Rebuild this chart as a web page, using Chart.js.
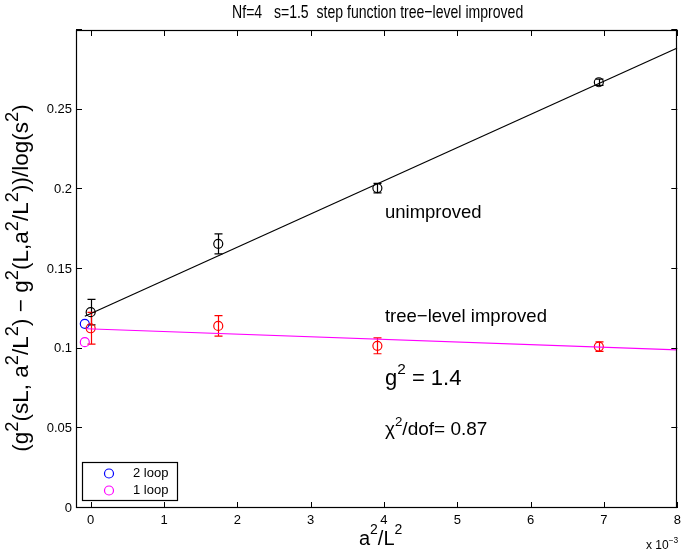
<!DOCTYPE html>
<html>
<head>
<meta charset="utf-8">
<script src="https://cdn.jsdelivr.net/npm/chart.js@4.4.1/dist/chart.umd.min.js"></script>
<style>
  html, body { margin: 0; padding: 0; background: #fff; }
  #wrap { width: 683px; height: 559px; }
</style>
</head>
<body>
<div id="wrap"><canvas id="c" width="683" height="559"></canvas></div>
<script>
// a^2/L^2 values, in units of 1e-3
const a2L2 = [0, 1.74, 3.91, 6.93];
// unimproved step function and errors
const unimproved = [0.1229, 0.1658, 0.2008, 0.2672];
const unimprovedErr = [0.008, 0.0063, 0.003, 0.002];
// tree-level improved step function and errors
const treeLevel = [0.1128, 0.1143, 0.1018, 0.1013];
const treeLevelErr = [0.010, 0.0064, 0.005, 0.003];
// perturbative values at the continuum limit
const twoLoop = { x: -0.08, y: 0.1156 };
const oneLoop = { x: -0.08, y: 0.1041 };
// linear fit end points
const fitUnimproved = [{ x: -0.08, y: 0.1203 }, { x: 8, y: 0.2887 }];
const fitTreeLevel = [{ x: -0.06, y: 0.1125 }, { x: 8, y: 0.0992 }];

const xTicks = [0, 1, 2, 3, 4, 5, 6, 7, 8];
const yTicks = [0, 0.05, 0.1, 0.15, 0.2, 0.25, 0.3];

const FONT = '"Liberation Sans", Arial, Helvetica, sans-serif';

function pts(xs, ys) {
    return xs.map((x, i) => ({ x: x, y: ys[i] }));
}

// draw text with superscripts, segs = [[text, isSup], ...]
function richWidth(ctx, segs, size, supScale) {
    let w = 0;
    segs.forEach(s => {
        ctx.font = (s[1] ? size * supScale : size) + 'px ' + FONT;
        w += ctx.measureText(s[0]).width;
    });
    return w;
}
function drawRich(ctx, segs, x, y, size, align, supScale) {
    supScale = supScale || 0.7;
    let w = richWidth(ctx, segs, size, supScale);
    let cx = align === 'center' ? x - w / 2 : x;
    ctx.textBaseline = 'middle';
    ctx.textAlign = 'left';
    segs.forEach(s => {
        const sz = s[1] ? size * supScale : size;
        ctx.font = sz + 'px ' + FONT;
        ctx.fillText(s[0], cx, s[1] ? y - size * 0.42 : y);
        cx += ctx.measureText(s[0]).width;
    });
}

const decorations = {
    id: 'decorations',
    beforeDatasetsDraw(chart) {
        const ctx = chart.ctx;
        const xs = chart.scales.x, ys = chart.scales.y;
        ctx.save();
        ctx.lineWidth = 1.2;
        const bars = (vals, errs, color) => {
            ctx.strokeStyle = color;
            vals.forEach((v, i) => {
                const px = Math.round(xs.getPixelForValue(a2L2[i])) + 0.5;
                const top = ys.getPixelForValue(v + errs[i]);
                const bot = ys.getPixelForValue(v - errs[i]);
                ctx.beginPath();
                ctx.moveTo(px, top); ctx.lineTo(px, bot);
                ctx.moveTo(px - 4, top); ctx.lineTo(px + 4, top);
                ctx.moveTo(px - 4, bot); ctx.lineTo(px + 4, bot);
                ctx.stroke();
            });
        };
        bars(unimproved, unimprovedErr, '#000');
        bars(treeLevel, treeLevelErr, '#ff0000');
        ctx.restore();
    },
    afterDraw(chart) {
        const ctx = chart.ctx;
        const a = chart.chartArea;
        const xs = chart.scales.x, ys = chart.scales.y;
        ctx.save();
        ctx.fillStyle = '#000';
        ctx.strokeStyle = '#000';
        ctx.lineWidth = 1.2;

        // frame
        ctx.strokeRect(Math.round(a.left) + 0.5, Math.round(a.top) + 0.5,
            Math.round(a.right - a.left) - 1, Math.round(a.bottom - a.top) - 1);

        // inward ticks
        ctx.lineWidth = 1;
        ctx.beginPath();
        xTicks.forEach(t => {
            const px = Math.round(xs.getPixelForValue(t)) + 0.5;
            ctx.moveTo(px, a.bottom); ctx.lineTo(px, a.bottom - 6);
            ctx.moveTo(px, a.top); ctx.lineTo(px, a.top + 6);
        });
        yTicks.forEach(t => {
            const py = Math.round(ys.getPixelForValue(t)) - 0.5;
            ctx.moveTo(a.left, py); ctx.lineTo(a.left + 6, py);
            ctx.moveTo(a.right, py); ctx.lineTo(a.right - 6, py);
        });
        ctx.stroke();

        // x tick labels
        ctx.font = '13px ' + FONT;
        ctx.textAlign = 'center';
        ctx.textBaseline = 'middle';
        xTicks.forEach(t => ctx.fillText(String(t), xs.getPixelForValue(t), a.bottom + 12));

        // x 10^-3
        drawRich(ctx, [['x 10', false], ['\u22123', true]], 646, 546, 12, 'left');

        // title, in a narrow face
        ctx.save();
        ctx.translate((a.left + a.right) / 2 + 1, 13);
        ctx.scale(0.74, 1);
        ctx.font = '19px ' + FONT;
        ctx.textAlign = 'center';
        ctx.textBaseline = 'middle';
        ctx.fillText('Nf=4   s=1.5  step function tree\u2212level improved', 0, 0);
        ctx.restore();

        // axis labels
        drawRich(ctx, [['a', false], ['2', true], ['/L', false], ['2', true]],
            (a.left + a.right) / 2 + 4, 539, 20, 'center');
        ctx.save();
        ctx.translate(22, (a.top + a.bottom) / 2 + 9);
        ctx.rotate(-Math.PI / 2);
        drawRich(ctx, [['(g', false], ['2', true], ['(sL, a', false], ['2', true], ['/L', false], ['2', true],
            [') \u2212 g', false], ['2', true], ['(L,a', false], ['2', true], ['/L', false], ['2', true],
            ['))/log(s', false], ['2', true], [')', false]], 0, 0, 22.5, 'center', 0.82);
        ctx.restore();

        // annotations
        const tx = xs.getPixelForValue(4) + 1;
        drawRich(ctx, [['unimproved', false]], tx, ys.getPixelForValue(0.185), 18.5, 'left');
        drawRich(ctx, [['tree\u2212level improved', false]], tx, ys.getPixelForValue(0.12), 18.5, 'left');
        drawRich(ctx, [['g', false], ['2', true], [' = 1.4', false]], tx, ys.getPixelForValue(0.081), 22, 'left');
        drawRich(ctx, [['\u03c7', false], ['2', true], ['/dof= 0.87', false]], tx, ys.getPixelForValue(0.049), 19, 'left');

        // legend
        const lx = 82.5, ly = 462.5, lw = 95, lh = 38;
        ctx.fillStyle = '#fff';
        ctx.fillRect(lx, ly, lw, lh);
        ctx.lineWidth = 1.2;
        ctx.strokeRect(lx, ly, lw, lh);
        const entries = [chart.data.datasets[4], chart.data.datasets[5]];
        entries.forEach((ds, i) => {
            const cy = ly + 11 + i * 17;
            ctx.strokeStyle = ds.borderColor;
            ctx.beginPath();
            ctx.arc(109, cy, 4.5, 0, Math.PI * 2);
            ctx.stroke();
            ctx.fillStyle = '#000';
            ctx.font = '13px ' + FONT;
            ctx.textAlign = 'left';
            ctx.textBaseline = 'middle';
            ctx.fillText(ds.label, 133, cy);
        });
        ctx.restore();
    }
};

const circle = (color) => ({
    pointStyle: 'circle', pointRadius: 4.5, pointHoverRadius: 4.5,
    borderColor: color, backgroundColor: 'rgba(0,0,0,0)', borderWidth: 1.2, showLine: false
});

new Chart(document.getElementById('c').getContext('2d'), {
    type: 'scatter',
    data: {
        datasets: [
            { type: 'line', label: 'fit unimproved', data: fitUnimproved, borderColor: '#000', borderWidth: 1.2, pointRadius: 0, fill: false },
            { type: 'line', label: 'fit tree-level', data: fitTreeLevel, borderColor: '#ff00ff', borderWidth: 1.2, pointRadius: 0, fill: false },
            Object.assign({ label: 'unimproved', data: pts(a2L2, unimproved) }, circle('#000')),
            Object.assign({ label: 'tree-level improved', data: pts(a2L2, treeLevel) }, circle('#ff0000')),
            Object.assign({ label: '2 loop', data: [twoLoop] }, circle('#0000ff')),
            Object.assign({ label: '1 loop', data: [oneLoop] }, circle('#ff00ff'))
        ]
    },
    options: {
        responsive: false,
        animation: false,
        layout: { padding: { top: 30, right: 1, left: 0, bottom: 0 } },
        plugins: { legend: { display: false }, tooltip: { enabled: false }, title: { display: false } },
        scales: {
            x: {
                type: 'linear', min: -0.2, max: 8,
                ticks: { display: false },
                grid: { display: false, drawTicks: false },
                border: { display: false },
                afterFit: s => { s.height = 51; }
            },
            y: {
                type: 'linear', min: 0, max: 0.3,
                afterBuildTicks: s => { s.ticks = yTicks.map(v => ({ value: v })); },
                ticks: {
                    color: '#000', padding: 4, font: { size: 13, family: FONT },
                    callback: v => v >= 0.3 ? '' : String(+v.toFixed(2))
                },
                grid: { display: false, drawTicks: false },
                border: { display: false },
                afterFit: s => { s.width = 76; }
            }
        }
    },
    plugins: [decorations]
});
</script>
</body>
</html>
